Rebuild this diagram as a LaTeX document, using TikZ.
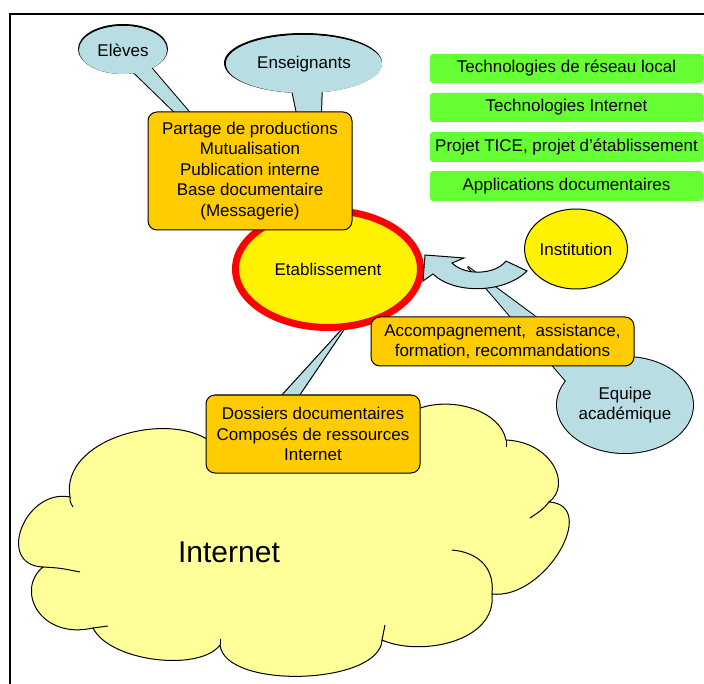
\documentclass[tikz,border=0pt]{standalone}
\usepackage{fontspec}
\setmainfont{Liberation Sans}
\usetikzlibrary{shapes.geometric}

\definecolor{paleblue}{RGB}{184,222,228}
\definecolor{orangebox}{RGB}{255,204,0}
\definecolor{cloudyellow}{RGB}{255,255,153}
\definecolor{limegreen}{RGB}{102,255,51}

\begin{document}
\begin{tikzpicture}[
    x=1pt, y=-1pt,
    txt/.style={font=\fontsize{17}{20.5}\selectfont},
    bubble/.style={ellipse, draw=black, line width=1pt, fill=paleblue, inner sep=0pt, align=center, txt},
    tailshape/.style={fill=paleblue, draw=black, line width=1pt, line join=round},
    task/.style={rectangle, rounded corners=9pt, draw=black, line width=1pt, fill=orangebox,
        inner sep=0pt, align=center, txt},
    topic/.style={rectangle, rounded corners=3pt, fill=limegreen, inner sep=0pt, txt},
    stub/.style={draw=black, line width=1pt}
]
\useasboundingbox (0,0) rectangle (704,684);
\clip (0,0) rectangle (704,684);

% frame
\draw[line width=2pt] (10,700) -- (10,14.3) -- (720,14.3);

% Eleves callout
\draw[tailshape, line width=2pt] (118,57) -- (260,195) -- (142,57) -- cycle;
\node[bubble, line width=2pt, minimum width=88pt, minimum height=48pt] at (123,49) {};
\fill[paleblue] (118,57) -- (260,195) -- (142,57) -- cycle;
\node[bubble, draw=none, minimum width=88pt, minimum height=48pt] (eleves) at (123,50) {Elèves};

% Enseignants callout
\draw[tailshape, line width=2pt] (290,80) -- (318,215) -- (322,80) -- cycle;
\node[bubble, line width=2pt, minimum width=156pt, minimum height=58pt] at (303,63) {};
\fill[paleblue] (290,80) -- (318,215) -- (322,80) -- cycle;
\node[bubble, draw=none, minimum width=156pt, minimum height=58pt] (enseignants) at (304,64) {Enseignants};

% Dossiers tail
\draw[tailshape] (352,318) -- (270,408) -- (291,408) -- cycle;

% Equipe callout
\draw[tailshape, line width=2pt] (578,395) -- (468,267) -- (610,372) -- cycle;
\node[bubble, line width=2pt, minimum width=136pt, minimum height=96pt] at (625,405) {};
\fill[paleblue] (578,395) -- (468,267) -- (610,372) -- cycle;
\node[bubble, draw=none, minimum width=136pt, minimum height=96pt] (equipe) at (625,405) {Equipe\\académique};

% Etablissement
\node[ellipse, draw=red, line width=7pt, fill=yellow, inner sep=0pt, minimum width=185pt,
    minimum height=117pt, txt] (etab) at (328,269) {Etablissement};

\node[task, minimum width=204pt, minimum height=118pt] (sharing) at (250,171)
    {Partage de productions\\Mutualisation\\Publication interne\\Base documentaire\\(Messagerie)};

% curved arrow
\draw[tailshape, line join=miter] (425,255) -- (464,258) -- (452,263)
    .. controls (465,276) and (495,275) .. (506,261) -- (527,271)
    .. controls (505,293) and (455,295) .. (433,274) -- (423,281) -- cycle;

\node[ellipse, draw=black, line width=1pt, fill=yellow, inner sep=0pt, minimum width=98pt,
    minimum height=80pt, txt] (institution) at (576,249) {Institution};

\node[task, minimum width=263pt, minimum height=49pt] (support) at (502.5,341.5)
    {Accompagnement,\ \ assistance,\\formation, recommandations};

% cloud
\draw[fill=cloudyellow, line width=1pt] (210,441)
    .. controls (165,410) and (60,440) .. (70,497)
    .. controls (25,488) and (-5,565) .. (43,567)
    .. controls (15,590) and (40,640) .. (93,628)
    .. controls (110,662) and (200,672) .. (220,645)
    .. controls (225,690) and (380,685) .. (382,640)
    .. controls (420,657) and (497,642) .. (492,594)
    .. controls (545,600) and (600,505) .. (549,502)
    .. controls (572,485) and (552,442) .. (506,440)
    .. controls (500,410) and (450,395) .. (415,410) -- cycle;
\draw[stub] (70,497) .. controls (70,502) .. (73,507);
\draw[stub] (43,567) .. controls (60,568) .. (80,572);
\draw[stub] (93,628) .. controls (100,627) .. (108,626);
\draw[stub] (220,645) -- (220,639);
\draw[stub] (382,640) .. controls (383,632) .. (385,625);
\draw[stub] (492,594) .. controls (495,565) and (475,552) .. (452,550);
\draw[stub] (549,502) .. controls (542,510) .. (530,518);
\draw[stub] (506,440) -- (506,447);

\node[task, minimum width=214pt, minimum height=78pt] (folders) at (313,434)
    {Dossiers documentaires\\Composés de ressources\\Internet};
\node[font=\fontsize{30}{36}\selectfont] (internet) at (229,552) {Internet};

% green topics
\node[topic, minimum width=273pt, minimum height=29pt] (techlan) at (566.5,68.5) {Technologies de réseau local};
\node[topic, minimum width=273pt, minimum height=29pt] (technet) at (566.5,107.5) {Technologies Internet};
\node[topic, minimum width=273pt, minimum height=30pt] (tice) at (566.5,147) {Projet TICE, projet d’établissement};
\node[topic, minimum width=273pt, minimum height=30pt] (apps) at (566.5,186) {Applications documentaires};
\end{tikzpicture}
\end{document}
